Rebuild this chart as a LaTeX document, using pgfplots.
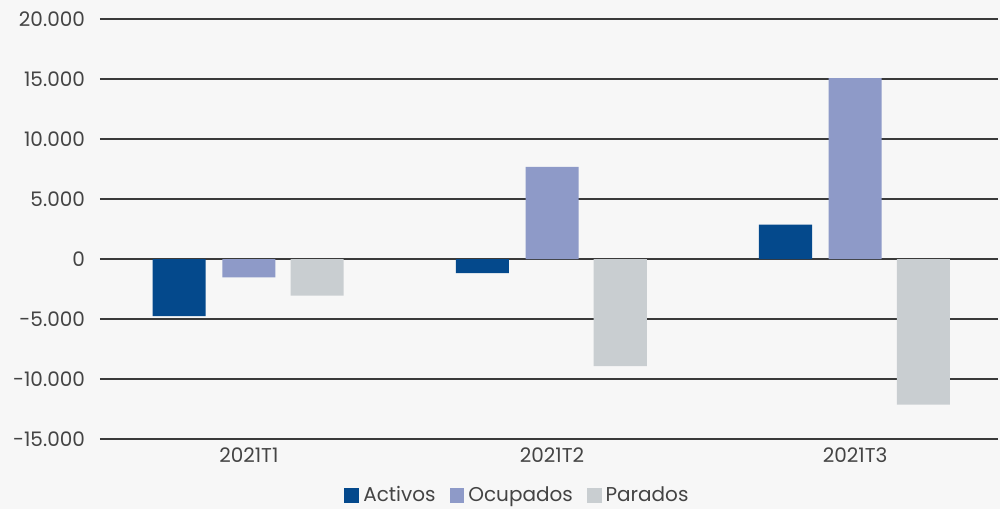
\documentclass[border=0pt]{standalone}
\usepackage{pgfplots}
\pgfplotsset{compat=1.18}
\usepackage{fontspec}
\setmainfont{Poppins}
\definecolor{bg}{HTML}{F7F7F7}
\definecolor{cA}{HTML}{04498C}
\definecolor{cO}{HTML}{8E9AC8}
\definecolor{cP}{HTML}{C9CED1}
\definecolor{txt}{HTML}{444444}
\definecolor{gridc}{HTML}{3A3A3A}
\begin{document}
\begin{tikzpicture}[x=1pt,y=1pt]
\fill[bg] (-50pt,-35pt) rectangle (450pt,219.5pt);
\begin{axis}[
  at={(0,0)}, anchor=south west,
  scale only axis, width=449pt, height=210pt,
  xmin=-0.491, xmax=2.471, ymin=-15000, ymax=20000,
  axis line style={draw=none},
  ytick={-15000,-10000,...,20000},
  xtick={0,1,2}, xticklabels={2021T1,2021T2,2021T3},
  major tick length=0pt,
  xmajorgrids=false, ymajorgrids=true,
  major grid style={draw=gridc, line width=0.55pt},
  ybar, bar width=0.175, bar shift auto=false,
  y tick label style={font=\fontsize{10}{12}\selectfont, text=txt, xshift=-4pt},
  x tick label style={font=\fontsize{10}{12}\selectfont, text=txt, yshift=-1pt},
  /pgf/number format/.cd, use period, 1000 sep={.}, assume math mode=true,
  /pgfplots/.cd,
  scaled y ticks=false,
  legend style={at={(0.466,-0.135)}, anchor=center, draw=none, fill=none,
    legend columns=3, font=\fontsize{10}{12}\selectfont, text=txt,
    /tikz/every even column/.append style={column sep=5pt}},
  legend image code/.code={\fill[#1] (0pt,-3.7pt) rectangle (7.4pt,3.7pt);},
]
\addplot[fill=cA, draw=none, bar shift=-0.23] coordinates {(0,-4750) (1,-1170) (2,2860)};
\addplot[fill=cO, draw=none, bar shift=0] coordinates {(0,-1525) (1,7670) (2,15080)};
\addplot[fill=cP, draw=none, bar shift=0.225] coordinates {(0,-3060) (1,-8920) (2,-12140)};
\legend{Activos,Ocupados,Parados}
\end{axis}
\pgfresetboundingbox
\path (-50pt,-35pt) rectangle (450pt,219.5pt);
\end{tikzpicture}
\end{document}
